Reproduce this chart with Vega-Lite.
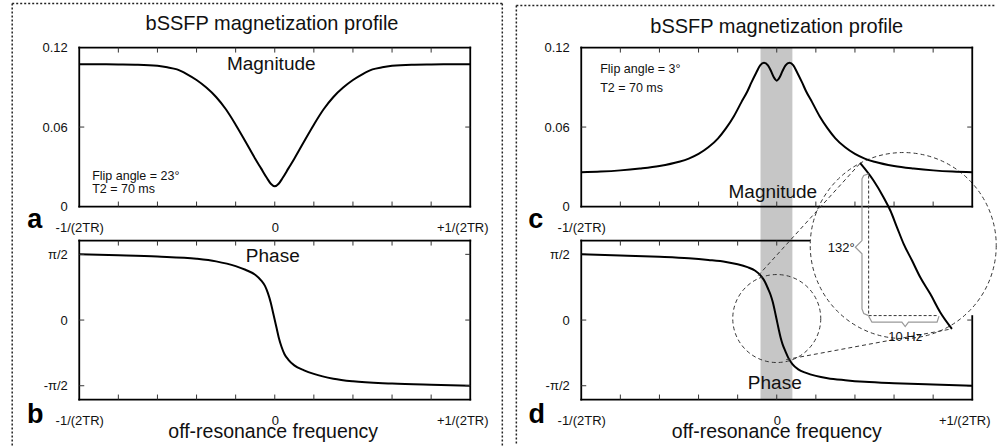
{
  "$schema": "https://vega.github.io/schema/vega-lite/v6.json",
  "background": "white",
  "padding": {"left": 11.25, "top": 2.55, "right": 0, "bottom": 0},
  "config": {
    "font": "Liberation Sans",
    "view": {"stroke": null},
    "axis": {"grid": false, "domain": false, "ticks": false, "labelFontSize": 13, "labelColor": "#111", "labelFont": "Liberation Sans", "zindex": 1, "labelFlush": false, "labelOverlap": false},
    "axisX": {"labelPadding": 15},
    "axisY": {"labelPadding": 12},
    "text": {"font": "Liberation Sans", "color": "#111"}
  },
  "datasets": {
    "tx": [{"x": -0.8}, {"x": -0.6}, {"x": -0.4}, {"x": -0.2}, {"x": 0}, {"x": 0.2}, {"x": 0.4}, {"x": 0.6}, {"x": 0.8}],
    "txD": [{"x": -0.8}, {"x": -0.6}, {"x": -0.4}, {"x": -0.2}, {"x": 0}],
    "tyM": [{"y": 0.06}],
    "tyP": [{"y": -1}, {"y": 0}, {"y": 1}],
    "tyD": [{"y": -1}, {"y": 0}],
    "magA": [
      {"x": -1, "y": 0.1074}, {"x": -0.9, "y": 0.1074}, {"x": -0.8, "y": 0.1073}, {"x": -0.7, "y": 0.1071}, {"x": -0.6, "y": 0.1062}, {"x": -0.55, "y": 0.1051}, {"x": -0.5, "y": 0.1035}, {"x": -0.45, "y": 0.1}, {"x": -0.4, "y": 0.0955}, {"x": -0.35, "y": 0.0898}, {"x": -0.3, "y": 0.0827}, {"x": -0.25, "y": 0.0734}, {"x": -0.2, "y": 0.0618}, {"x": -0.15, "y": 0.0491}, {"x": -0.1, "y": 0.0361}, {"x": -0.07, "y": 0.0288}, {"x": -0.04, "y": 0.0215}, {"x": -0.02, "y": 0.0172}, {"x": 0, "y": 0.0153},
      {"x": 0.02, "y": 0.0172}, {"x": 0.04, "y": 0.0215}, {"x": 0.07, "y": 0.0288}, {"x": 0.1, "y": 0.0361}, {"x": 0.15, "y": 0.0491}, {"x": 0.2, "y": 0.0618}, {"x": 0.25, "y": 0.0734}, {"x": 0.3, "y": 0.0827}, {"x": 0.35, "y": 0.0898}, {"x": 0.4, "y": 0.0955}, {"x": 0.45, "y": 0.1}, {"x": 0.5, "y": 0.1035}, {"x": 0.55, "y": 0.1051}, {"x": 0.6, "y": 0.1062}, {"x": 0.7, "y": 0.1071}, {"x": 0.8, "y": 0.1073}, {"x": 0.9, "y": 0.1074}, {"x": 1, "y": 0.1074}
    ],
    "phaseB": [
      {"x": -1, "y": 1}, {"x": -0.8, "y": 0.985}, {"x": -0.6, "y": 0.966}, {"x": -0.4, "y": 0.933}, {"x": -0.3, "y": 0.893}, {"x": -0.2, "y": 0.82}, {"x": -0.15, "y": 0.765}, {"x": -0.1, "y": 0.69}, {"x": -0.07, "y": 0.605}, {"x": -0.05, "y": 0.52}, {"x": -0.035, "y": 0.41}, {"x": -0.02, "y": 0.26}, {"x": -0.01, "y": 0.13}, {"x": 0, "y": 0},
      {"x": 0.01, "y": -0.13}, {"x": 0.02, "y": -0.26}, {"x": 0.035, "y": -0.41}, {"x": 0.05, "y": -0.52}, {"x": 0.07, "y": -0.605}, {"x": 0.1, "y": -0.69}, {"x": 0.15, "y": -0.765}, {"x": 0.2, "y": -0.82}, {"x": 0.3, "y": -0.893}, {"x": 0.4, "y": -0.933}, {"x": 0.6, "y": -0.966}, {"x": 0.8, "y": -0.985}, {"x": 1, "y": -1}
    ],
    "magC": [
      {"x": -1, "y": 0.0259}, {"x": -0.9, "y": 0.0264}, {"x": -0.8, "y": 0.0273}, {"x": -0.7, "y": 0.0287}, {"x": -0.6, "y": 0.0306}, {"x": -0.5, "y": 0.0338}, {"x": -0.45, "y": 0.0362}, {"x": -0.4, "y": 0.0397}, {"x": -0.35, "y": 0.0447}, {"x": -0.3, "y": 0.0515}, {"x": -0.26, "y": 0.059}, {"x": -0.22, "y": 0.068}, {"x": -0.18, "y": 0.079}, {"x": -0.15, "y": 0.087}, {"x": -0.13, "y": 0.0935}, {"x": -0.105, "y": 0.101}, {"x": -0.085, "y": 0.1065}, {"x": -0.065, "y": 0.1085}, {"x": -0.045, "y": 0.1065}, {"x": -0.03, "y": 0.1025}, {"x": -0.015, "y": 0.0975}, {"x": 0, "y": 0.095},
      {"x": 0.015, "y": 0.0975}, {"x": 0.03, "y": 0.1025}, {"x": 0.045, "y": 0.1065}, {"x": 0.065, "y": 0.1085}, {"x": 0.085, "y": 0.1065}, {"x": 0.105, "y": 0.101}, {"x": 0.13, "y": 0.0935}, {"x": 0.15, "y": 0.087}, {"x": 0.18, "y": 0.079}, {"x": 0.22, "y": 0.068}, {"x": 0.26, "y": 0.059}, {"x": 0.3, "y": 0.0515}, {"x": 0.35, "y": 0.0447}, {"x": 0.4, "y": 0.0397}, {"x": 0.45, "y": 0.0362}, {"x": 0.5, "y": 0.0338}, {"x": 0.6, "y": 0.0306}, {"x": 0.7, "y": 0.0287}, {"x": 0.8, "y": 0.0273}, {"x": 0.9, "y": 0.0264}, {"x": 1, "y": 0.0259}
    ],
    "phaseD": [
      {"x": -1, "y": 1}, {"x": -0.8, "y": 0.982}, {"x": -0.6, "y": 0.962}, {"x": -0.45, "y": 0.94}, {"x": -0.35, "y": 0.915}, {"x": -0.26, "y": 0.885}, {"x": -0.2, "y": 0.85}, {"x": -0.15, "y": 0.805}, {"x": -0.11, "y": 0.75}, {"x": -0.08, "y": 0.67}, {"x": -0.06, "y": 0.58}, {"x": -0.045, "y": 0.48}, {"x": -0.03, "y": 0.37}, {"x": -0.02, "y": 0.27}, {"x": -0.01, "y": 0.14}, {"x": 0, "y": 0},
      {"x": 0.01, "y": -0.14}, {"x": 0.02, "y": -0.27}, {"x": 0.03, "y": -0.37}, {"x": 0.045, "y": -0.48}, {"x": 0.06, "y": -0.58}, {"x": 0.08, "y": -0.67}, {"x": 0.11, "y": -0.75}, {"x": 0.15, "y": -0.805}, {"x": 0.2, "y": -0.85}, {"x": 0.26, "y": -0.885}, {"x": 0.35, "y": -0.915}, {"x": 0.45, "y": -0.94}, {"x": 0.6, "y": -0.962}, {"x": 0.8, "y": -0.982}, {"x": 1, "y": -1}
    ],
    "zoomCurve": [
      {"x": 0.427, "y": 2.387}, {"x": 0.495, "y": 2.123}, {"x": 0.546, "y": 1.869}, {"x": 0.581, "y": 1.667}, {"x": 0.615, "y": 1.412}, {"x": 0.649, "y": 1.16}, {"x": 0.692, "y": 0.906}, {"x": 0.734, "y": 0.651}, {"x": 0.785, "y": 0.399}, {"x": 0.836, "y": 0.119}, {"x": 0.896, "y": -0.134}
    ],
    "tangents": [
      {"seg": 1, "i": 0, "x": -0.095, "y": 0.677}, {"seg": 1, "i": 1, "x": 0.427, "y": 2.387},
      {"seg": 2, "i": 0, "x": 0.049, "y": -0.601}, {"seg": 2, "i": 1, "x": 0.896, "y": -0.134}
    ],
    "guides": [
      {"i": 0, "x": 0.47, "y": 2.199}, {"i": 1, "x": 0.47, "y": 0.068}, {"i": 2, "x": 0.828, "y": 0.068}
    ],
    "braces": [
      {"seg": 1, "i": 0, "x": 0.47, "y": 2.225}, {"seg": 1, "i": 1, "x": 0.445, "y": 2.2}, {"seg": 1, "i": 2, "x": 0.436, "y": 2.15}, {"seg": 1, "i": 3, "x": 0.436, "y": 1.21}, {"seg": 1, "i": 4, "x": 0.402, "y": 1.108}, {"seg": 1, "i": 5, "x": 0.436, "y": 1.008}, {"seg": 1, "i": 6, "x": 0.436, "y": 0.17}, {"seg": 1, "i": 7, "x": 0.445, "y": 0.1}, {"seg": 1, "i": 8, "x": 0.47, "y": 0.068},
      {"seg": 2, "i": 0, "x": 0.47, "y": 0.06}, {"seg": 2, "i": 1, "x": 0.487, "y": -0.033}, {"seg": 2, "i": 2, "x": 0.64, "y": -0.033}, {"seg": 2, "i": 3, "x": 0.657, "y": -0.1}, {"seg": 2, "i": 4, "x": 0.674, "y": -0.033}, {"seg": 2, "i": 5, "x": 0.82, "y": -0.033}, {"seg": 2, "i": 6, "x": 0.83, "y": 0.06}
    ],
    "frameMag": [
      {"x": -1, "x2": 1, "y": 0.12, "y2": 0.12},
      {"x": -1, "x2": 1, "y": 0, "y2": 0},
      {"x": -1, "x2": -1, "y": 0, "y2": 0.12},
      {"x": 1, "x2": 1, "y": 0, "y2": 0.12}
    ],
    "framePhaseB": [
      {"x": -1, "x2": 1, "y": 1.21, "y2": 1.21},
      {"x": -1, "x2": 1, "y": -1.21, "y2": -1.21},
      {"x": -1, "x2": -1, "y": -1.21, "y2": 1.21},
      {"x": 1, "x2": 1, "y": -1.21, "y2": 1.21}
    ],
    "framePhaseD": [
      {"x": -1, "x2": 0.166, "y": 1.21, "y2": 1.21},
      {"x": -1, "x2": 1, "y": -1.21, "y2": -1.21},
      {"x": -1, "x2": -1, "y": -1.21, "y2": 1.21},
      {"x": 1, "x2": 1, "y": -1.21, "y2": 0.06}
    ]
  },
  "concat": [
    {
      "width": 391, "height": 159,
      "resolve": {"axis": {"x": "independent", "y": "independent"}},
      "layer": [
        {
          "data": {"values": [
            {"x": -1.343, "x2": 1.164, "y": 0.1532, "y2": 0.1532},
            {"x": -1.343, "x2": -1.343, "y": 0.1532, "y2": -0.1804},
            {"x": 1.164, "x2": 1.164, "y": 0.1532, "y2": -0.1804}
          ]},
          "mark": {"type": "rule", "strokeDash": [2, 2], "strokeWidth": 1.5, "color": "#222"},
          "encoding": {
            "x": {"field": "x", "type": "quantitative", "scale": {"domain": [-1, 1], "nice": false, "zero": false}, "axis": null},
            "x2": {"field": "x2"},
            "y": {"field": "y", "type": "quantitative", "scale": {"domain": [0, 0.12], "nice": false, "zero": false}, "axis": null},
            "y2": {"field": "y2"}
          }
        },
        {
          "data": {"name": "magA"},
          "mark": {"type": "line", "color": "#000", "strokeWidth": 2, "interpolate": "monotone"},
          "encoding": {
            "x": {"field": "x", "type": "quantitative", "scale": {"domain": [-1, 1], "nice": false, "zero": false}, "axis": {"orient": "bottom", "title": null, "values": [-1, 0, 1], "labelExpr": "datum.value == -1 ? '-1/(2TR)' : datum.value == 1 ? '+1/(2TR)' : '0'", "labelOffset": {"condition": {"test": "datum.value == 1", "value": -8}, "value": 0}}},
            "y": {"field": "y", "type": "quantitative", "scale": {"domain": [0, 0.12], "nice": false, "zero": false}, "axis": {"orient": "left", "title": null, "values": [0, 0.06, 0.12], "labelExpr": "datum.value == 0 ? '0' : format(datum.value, '.2f')"}}
          }
        },
        {
          "data": {"name": "frameMag"},
          "mark": {"type": "rule", "strokeWidth": 1.8, "color": "#000", "strokeCap": "square"},
          "encoding": {
            "x": {"field": "x", "type": "quantitative", "scale": {"domain": [-1, 1], "nice": false, "zero": false}, "axis": null},
            "x2": {"field": "x2"},
            "y": {"field": "y", "type": "quantitative", "scale": {"domain": [0, 0.12], "nice": false, "zero": false}, "axis": null},
            "y2": {"field": "y2"}
          }
        },
        {
          "data": {"name": "tx"},
          "mark": {"type": "rule", "color": "#333", "strokeWidth": 1, "y2Offset": -5},
          "encoding": {
            "x": {"field": "x", "type": "quantitative", "scale": {"domain": [-1, 1], "nice": false, "zero": false}, "axis": null},
            "y": {"datum": 0, "type": "quantitative", "scale": {"domain": [0, 0.12], "nice": false, "zero": false}, "axis": null},
            "y2": {"datum": 0}
          }
        },
        {
          "data": {"name": "tx"},
          "mark": {"type": "rule", "color": "#333", "strokeWidth": 1, "y2Offset": 5},
          "encoding": {
            "x": {"field": "x", "type": "quantitative", "scale": {"domain": [-1, 1], "nice": false, "zero": false}, "axis": null},
            "y": {"datum": 0.12, "type": "quantitative", "scale": {"domain": [0, 0.12], "nice": false, "zero": false}, "axis": null},
            "y2": {"datum": 0.12}
          }
        },
        {
          "data": {"name": "tyM"},
          "mark": {"type": "rule", "color": "#333", "strokeWidth": 1, "x2Offset": 5},
          "encoding": {
            "y": {"field": "y", "type": "quantitative", "scale": {"domain": [0, 0.12], "nice": false, "zero": false}, "axis": null},
            "x": {"datum": -1, "type": "quantitative", "scale": {"domain": [-1, 1], "nice": false, "zero": false}, "axis": null},
            "x2": {"datum": -1}
          }
        },
        {
          "data": {"name": "tyM"},
          "mark": {"type": "rule", "color": "#333", "strokeWidth": 1, "x2Offset": -5},
          "encoding": {
            "y": {"field": "y", "type": "quantitative", "scale": {"domain": [0, 0.12], "nice": false, "zero": false}, "axis": null},
            "x": {"datum": 1, "type": "quantitative", "scale": {"domain": [-1, 1], "nice": false, "zero": false}, "axis": null},
            "x2": {"datum": 1}
          }
        },
        {
          "data": {"values": [
            {"x": -0.014, "y": 0.1374, "t": "bSSFP magnetization profile", "s": 20},
            {"x": -0.018, "y": 0.1077, "t": "Magnitude", "s": 19}
          ]},
          "mark": {"type": "text", "align": "center", "baseline": "middle"},
          "encoding": {
            "x": {"field": "x", "type": "quantitative", "scale": {"domain": [-1, 1], "nice": false, "zero": false}, "axis": null},
            "y": {"field": "y", "type": "quantitative", "scale": {"domain": [0, 0.12], "nice": false, "zero": false}, "axis": null},
            "text": {"field": "t"},
            "size": {"field": "s", "type": "quantitative", "scale": null}
          }
        },
        {
          "data": {"values": [
            {"x": -0.934, "y": 0.0228, "t": "Flip angle = 23°"},
            {"x": -0.934, "y": 0.0133, "t": "T2 = 70 ms"}
          ]},
          "mark": {"type": "text", "align": "left", "baseline": "middle", "fontSize": 12.5},
          "encoding": {
            "x": {"field": "x", "type": "quantitative", "scale": {"domain": [-1, 1], "nice": false, "zero": false}, "axis": null},
            "y": {"field": "y", "type": "quantitative", "scale": {"domain": [0, 0.12], "nice": false, "zero": false}, "axis": null},
            "text": {"field": "t"}
          }
        },
        {
          "data": {"values": [{"x": -1.2276, "y": -0.01585, "t": "a"}]},
          "mark": {"type": "text", "align": "center", "baseline": "alphabetic", "fontSize": 27, "fontWeight": "bold", "color": "#000"},
          "encoding": {
            "x": {"field": "x", "type": "quantitative", "scale": {"domain": [-1, 1], "nice": false, "zero": false}, "axis": null},
            "y": {"field": "y", "type": "quantitative", "scale": {"domain": [0, 0.12], "nice": false, "zero": false}, "axis": null},
            "text": {"field": "t"}
          }
        }
      ]
    },
    {
      "width": 391, "height": 159,
      "resolve": {"axis": {"x": "independent", "y": "independent"}},
      "layer": [
        {
          "data": {"values": [
            {"x": -1.332, "x2": 1.123, "y": 0.1517, "y2": 0.1517},
            {"x": -1.332, "x2": -1.332, "y": 0.1517, "y2": -0.1804}
          ]},
          "mark": {"type": "rule", "strokeDash": [2, 2], "strokeWidth": 1.5, "color": "#222"},
          "encoding": {
            "x": {"field": "x", "type": "quantitative", "scale": {"domain": [-1, 1], "nice": false, "zero": false}, "axis": null},
            "x2": {"field": "x2"},
            "y": {"field": "y", "type": "quantitative", "scale": {"domain": [0, 0.12], "nice": false, "zero": false}, "axis": null},
            "y2": {"field": "y2"}
          }
        },
        {
          "data": {"values": [{"x": -0.083, "x2": 0.08, "y": 0.12, "y2": -0.02566}]},
          "mark": {"type": "rect", "color": "#c6c6c6"},
          "encoding": {
            "x": {"field": "x", "type": "quantitative", "scale": {"domain": [-1, 1], "nice": false, "zero": false}, "axis": null},
            "x2": {"field": "x2"},
            "y": {"field": "y", "type": "quantitative", "scale": {"domain": [0, 0.12], "nice": false, "zero": false}, "axis": null},
            "y2": {"field": "y2"}
          }
        },
        {
          "data": {"values": [{"x": 0.647, "y": -0.02943}]},
          "mark": {"type": "point", "shape": "circle", "filled": true, "fill": "white", "stroke": "#333", "strokeWidth": 1, "strokeDash": [4, 3], "size": 34596, "opacity": 1},
          "encoding": {
            "x": {"field": "x", "type": "quantitative", "scale": {"domain": [-1, 1], "nice": false, "zero": false}, "axis": null},
            "y": {"field": "y", "type": "quantitative", "scale": {"domain": [0, 0.12], "nice": false, "zero": false}, "axis": null}
          }
        },
        {
          "data": {"name": "magC"},
          "mark": {"type": "line", "color": "#000", "strokeWidth": 2, "interpolate": "monotone"},
          "encoding": {
            "x": {"field": "x", "type": "quantitative", "scale": {"domain": [-1, 1], "nice": false, "zero": false}, "axis": {"orient": "bottom", "title": null, "values": [-1, 0], "labelExpr": "datum.value == -1 ? '-1/(2TR)' : '0'"}},
            "y": {"field": "y", "type": "quantitative", "scale": {"domain": [0, 0.12], "nice": false, "zero": false}, "axis": {"orient": "left", "title": null, "values": [0, 0.06, 0.12], "labelExpr": "datum.value == 0 ? '0' : format(datum.value, '.2f')"}}
          }
        },
        {
          "data": {"name": "frameMag"},
          "mark": {"type": "rule", "strokeWidth": 1.8, "color": "#000", "strokeCap": "square"},
          "encoding": {
            "x": {"field": "x", "type": "quantitative", "scale": {"domain": [-1, 1], "nice": false, "zero": false}, "axis": null},
            "x2": {"field": "x2"},
            "y": {"field": "y", "type": "quantitative", "scale": {"domain": [0, 0.12], "nice": false, "zero": false}, "axis": null},
            "y2": {"field": "y2"}
          }
        },
        {
          "data": {"name": "tx"},
          "mark": {"type": "rule", "color": "#333", "strokeWidth": 1, "y2Offset": -5},
          "encoding": {
            "x": {"field": "x", "type": "quantitative", "scale": {"domain": [-1, 1], "nice": false, "zero": false}, "axis": null},
            "y": {"datum": 0, "type": "quantitative", "scale": {"domain": [0, 0.12], "nice": false, "zero": false}, "axis": null},
            "y2": {"datum": 0}
          }
        },
        {
          "data": {"name": "tx"},
          "mark": {"type": "rule", "color": "#333", "strokeWidth": 1, "y2Offset": 5},
          "encoding": {
            "x": {"field": "x", "type": "quantitative", "scale": {"domain": [-1, 1], "nice": false, "zero": false}, "axis": null},
            "y": {"datum": 0.12, "type": "quantitative", "scale": {"domain": [0, 0.12], "nice": false, "zero": false}, "axis": null},
            "y2": {"datum": 0.12}
          }
        },
        {
          "data": {"name": "tyM"},
          "mark": {"type": "rule", "color": "#333", "strokeWidth": 1, "x2Offset": 5},
          "encoding": {
            "y": {"field": "y", "type": "quantitative", "scale": {"domain": [0, 0.12], "nice": false, "zero": false}, "axis": null},
            "x": {"datum": -1, "type": "quantitative", "scale": {"domain": [-1, 1], "nice": false, "zero": false}, "axis": null},
            "x2": {"datum": -1}
          }
        },
        {
          "data": {"name": "tyM"},
          "mark": {"type": "rule", "color": "#333", "strokeWidth": 1, "x2Offset": -5},
          "encoding": {
            "y": {"field": "y", "type": "quantitative", "scale": {"domain": [0, 0.12], "nice": false, "zero": false}, "axis": null},
            "x": {"datum": 1, "type": "quantitative", "scale": {"domain": [-1, 1], "nice": false, "zero": false}, "axis": null},
            "x2": {"datum": 1}
          }
        },
        {
          "data": {"values": [
            {"x": 0, "y": 0.1358, "t": "bSSFP magnetization profile", "s": 20},
            {"x": -0.02, "y": 0.0108, "t": "Magnitude", "s": 19}
          ]},
          "mark": {"type": "text", "align": "center", "baseline": "middle"},
          "encoding": {
            "x": {"field": "x", "type": "quantitative", "scale": {"domain": [-1, 1], "nice": false, "zero": false}, "axis": null},
            "y": {"field": "y", "type": "quantitative", "scale": {"domain": [0, 0.12], "nice": false, "zero": false}, "axis": null},
            "text": {"field": "t"},
            "size": {"field": "s", "type": "quantitative", "scale": null}
          }
        },
        {
          "data": {"values": [
            {"x": -0.903, "y": 0.1036, "t": "Flip angle = 3°"},
            {"x": -0.903, "y": 0.0898, "t": "T2 = 70 ms"}
          ]},
          "mark": {"type": "text", "align": "left", "baseline": "middle", "fontSize": 12.5},
          "encoding": {
            "x": {"field": "x", "type": "quantitative", "scale": {"domain": [-1, 1], "nice": false, "zero": false}, "axis": null},
            "y": {"field": "y", "type": "quantitative", "scale": {"domain": [0, 0.12], "nice": false, "zero": false}, "axis": null},
            "text": {"field": "t"}
          }
        },
        {
          "data": {"values": [{"x": -1.2327, "y": -0.01585, "t": "c"}]},
          "mark": {"type": "text", "align": "center", "baseline": "alphabetic", "fontSize": 27, "fontWeight": "bold", "color": "#000"},
          "encoding": {
            "x": {"field": "x", "type": "quantitative", "scale": {"domain": [-1, 1], "nice": false, "zero": false}, "axis": null},
            "y": {"field": "y", "type": "quantitative", "scale": {"domain": [0, 0.12], "nice": false, "zero": false}, "axis": null},
            "text": {"field": "t"}
          }
        }
      ]
    },
    {
      "width": 391, "height": 159,
      "resolve": {"axis": {"x": "independent", "y": "independent"}},
      "layer": [
        {
          "data": {"name": "phaseB"},
          "mark": {"type": "line", "color": "#000", "strokeWidth": 2, "interpolate": "monotone"},
          "encoding": {
            "x": {"field": "x", "type": "quantitative", "scale": {"domain": [-1, 1], "nice": false, "zero": false}, "axis": {"orient": "bottom", "title": null, "values": [-1, 0, 1], "labelExpr": "datum.value == -1 ? '-1/(2TR)' : datum.value == 1 ? '+1/(2TR)' : '0'", "labelOffset": {"condition": {"test": "datum.value == 1", "value": -8}, "value": 0}}},
            "y": {"field": "y", "type": "quantitative", "scale": {"domain": [-1.21, 1.21], "nice": false, "zero": false}, "axis": {"orient": "left", "title": null, "values": [-1, 0, 1], "labelExpr": "datum.value == 1 ? 'π/2' : datum.value == -1 ? '-π/2' : '0'"}}
          }
        },
        {
          "data": {"name": "framePhaseB"},
          "mark": {"type": "rule", "strokeWidth": 1.8, "color": "#000", "strokeCap": "square"},
          "encoding": {
            "x": {"field": "x", "type": "quantitative", "scale": {"domain": [-1, 1], "nice": false, "zero": false}, "axis": null},
            "x2": {"field": "x2"},
            "y": {"field": "y", "type": "quantitative", "scale": {"domain": [-1.21, 1.21], "nice": false, "zero": false}, "axis": null},
            "y2": {"field": "y2"}
          }
        },
        {
          "data": {"name": "tx"},
          "mark": {"type": "rule", "color": "#333", "strokeWidth": 1, "y2Offset": -5},
          "encoding": {
            "x": {"field": "x", "type": "quantitative", "scale": {"domain": [-1, 1], "nice": false, "zero": false}, "axis": null},
            "y": {"datum": -1.21, "type": "quantitative", "scale": {"domain": [-1.21, 1.21], "nice": false, "zero": false}, "axis": null},
            "y2": {"datum": -1.21}
          }
        },
        {
          "data": {"name": "tx"},
          "mark": {"type": "rule", "color": "#333", "strokeWidth": 1, "y2Offset": 5},
          "encoding": {
            "x": {"field": "x", "type": "quantitative", "scale": {"domain": [-1, 1], "nice": false, "zero": false}, "axis": null},
            "y": {"datum": 1.21, "type": "quantitative", "scale": {"domain": [-1.21, 1.21], "nice": false, "zero": false}, "axis": null},
            "y2": {"datum": 1.21}
          }
        },
        {
          "data": {"name": "tyP"},
          "mark": {"type": "rule", "color": "#333", "strokeWidth": 1, "x2Offset": 5},
          "encoding": {
            "y": {"field": "y", "type": "quantitative", "scale": {"domain": [-1.21, 1.21], "nice": false, "zero": false}, "axis": null},
            "x": {"datum": -1, "type": "quantitative", "scale": {"domain": [-1, 1], "nice": false, "zero": false}, "axis": null},
            "x2": {"datum": -1}
          }
        },
        {
          "data": {"name": "tyP"},
          "mark": {"type": "rule", "color": "#333", "strokeWidth": 1, "x2Offset": -5},
          "encoding": {
            "y": {"field": "y", "type": "quantitative", "scale": {"domain": [-1.21, 1.21], "nice": false, "zero": false}, "axis": null},
            "x": {"datum": 1, "type": "quantitative", "scale": {"domain": [-1, 1], "nice": false, "zero": false}, "axis": null},
            "x2": {"datum": 1}
          }
        },
        {
          "data": {"values": [
            {"x": -0.01, "y": 0.98, "t": "Phase", "s": 19},
            {"x": -0.008, "y": -1.71, "t": "off-resonance frequency", "s": 19.5}
          ]},
          "mark": {"type": "text", "align": "center", "baseline": "middle"},
          "encoding": {
            "x": {"field": "x", "type": "quantitative", "scale": {"domain": [-1, 1], "nice": false, "zero": false}, "axis": null},
            "y": {"field": "y", "type": "quantitative", "scale": {"domain": [-1.21, 1.21], "nice": false, "zero": false}, "axis": null},
            "text": {"field": "t"},
            "size": {"field": "s", "type": "quantitative", "scale": null}
          }
        },
        {
          "data": {"values": [{"x": -1.225, "y": -1.56, "t": "b"}]},
          "mark": {"type": "text", "align": "center", "baseline": "alphabetic", "fontSize": 27, "fontWeight": "bold", "color": "#000"},
          "encoding": {
            "x": {"field": "x", "type": "quantitative", "scale": {"domain": [-1, 1], "nice": false, "zero": false}, "axis": null},
            "y": {"field": "y", "type": "quantitative", "scale": {"domain": [-1.21, 1.21], "nice": false, "zero": false}, "axis": null},
            "text": {"field": "t"}
          }
        }
      ]
    },
    {
      "width": 391, "height": 159,
      "resolve": {"axis": {"x": "independent", "y": "independent"}},
      "layer": [
        {
          "data": {"values": [{"x": -0.083, "x2": 0.08, "y": 1.21, "y2": -1.21}]},
          "mark": {"type": "rect", "color": "#c6c6c6"},
          "encoding": {
            "x": {"field": "x", "type": "quantitative", "scale": {"domain": [-1, 1], "nice": false, "zero": false}, "axis": null},
            "x2": {"field": "x2"},
            "y": {"field": "y", "type": "quantitative", "scale": {"domain": [-1.21, 1.21], "nice": false, "zero": false}, "axis": null},
            "y2": {"field": "y2"}
          }
        },
        {
          "data": {"name": "framePhaseD"},
          "mark": {"type": "rule", "strokeWidth": 1.8, "color": "#000", "strokeCap": "square"},
          "encoding": {
            "x": {"field": "x", "type": "quantitative", "scale": {"domain": [-1, 1], "nice": false, "zero": false}, "axis": null},
            "x2": {"field": "x2"},
            "y": {"field": "y", "type": "quantitative", "scale": {"domain": [-1.21, 1.21], "nice": false, "zero": false}, "axis": null},
            "y2": {"field": "y2"}
          }
        },
        {
          "data": {"name": "tx"},
          "mark": {"type": "rule", "color": "#333", "strokeWidth": 1, "y2Offset": -5},
          "encoding": {
            "x": {"field": "x", "type": "quantitative", "scale": {"domain": [-1, 1], "nice": false, "zero": false}, "axis": null},
            "y": {"datum": -1.21, "type": "quantitative", "scale": {"domain": [-1.21, 1.21], "nice": false, "zero": false}, "axis": null},
            "y2": {"datum": -1.21}
          }
        },
        {
          "data": {"name": "txD"},
          "mark": {"type": "rule", "color": "#333", "strokeWidth": 1, "y2Offset": 5},
          "encoding": {
            "x": {"field": "x", "type": "quantitative", "scale": {"domain": [-1, 1], "nice": false, "zero": false}, "axis": null},
            "y": {"datum": 1.21, "type": "quantitative", "scale": {"domain": [-1.21, 1.21], "nice": false, "zero": false}, "axis": null},
            "y2": {"datum": 1.21}
          }
        },
        {
          "data": {"name": "tyP"},
          "mark": {"type": "rule", "color": "#333", "strokeWidth": 1, "x2Offset": 5},
          "encoding": {
            "y": {"field": "y", "type": "quantitative", "scale": {"domain": [-1.21, 1.21], "nice": false, "zero": false}, "axis": null},
            "x": {"datum": -1, "type": "quantitative", "scale": {"domain": [-1, 1], "nice": false, "zero": false}, "axis": null},
            "x2": {"datum": -1}
          }
        },
        {
          "data": {"name": "tyD"},
          "mark": {"type": "rule", "color": "#333", "strokeWidth": 1, "x2Offset": -5},
          "encoding": {
            "y": {"field": "y", "type": "quantitative", "scale": {"domain": [-1.21, 1.21], "nice": false, "zero": false}, "axis": null},
            "x": {"datum": 1, "type": "quantitative", "scale": {"domain": [-1, 1], "nice": false, "zero": false}, "axis": null},
            "x2": {"datum": 1}
          }
        },
        {
          "data": {"name": "phaseD"},
          "mark": {"type": "line", "color": "#000", "strokeWidth": 2, "interpolate": "monotone"},
          "encoding": {
            "x": {"field": "x", "type": "quantitative", "scale": {"domain": [-1, 1], "nice": false, "zero": false}, "axis": {"orient": "bottom", "title": null, "values": [-1, 0, 1], "labelExpr": "datum.value == -1 ? '-1/(2TR)' : datum.value == 1 ? '+1/(2TR)' : '0'", "labelOffset": {"condition": {"test": "datum.value == 1", "value": -8}, "value": 0}}},
            "y": {"field": "y", "type": "quantitative", "scale": {"domain": [-1.21, 1.21], "nice": false, "zero": false}, "axis": {"orient": "left", "title": null, "values": [-1, 0, 1], "labelExpr": "datum.value == 1 ? 'π/2' : datum.value == -1 ? '-π/2' : '0'"}}
          }
        },
        {
          "data": {"values": [{"x": 0, "y": 0.023}]},
          "mark": {"type": "point", "shape": "circle", "filled": false, "stroke": "#333", "strokeWidth": 1, "strokeDash": [4, 3], "size": 7744, "opacity": 1},
          "encoding": {
            "x": {"field": "x", "type": "quantitative", "scale": {"domain": [-1, 1], "nice": false, "zero": false}, "axis": null},
            "y": {"field": "y", "type": "quantitative", "scale": {"domain": [-1.21, 1.21], "nice": false, "zero": false}, "axis": null}
          }
        },
        {
          "data": {"name": "tangents"},
          "mark": {"type": "line", "color": "#333", "strokeWidth": 1, "strokeDash": [4, 3]},
          "encoding": {
            "x": {"field": "x", "type": "quantitative", "scale": {"domain": [-1, 1], "nice": false, "zero": false}, "axis": null},
            "y": {"field": "y", "type": "quantitative", "scale": {"domain": [-1.21, 1.21], "nice": false, "zero": false}, "axis": null},
            "detail": {"field": "seg", "type": "nominal"},
            "order": {"field": "i", "type": "quantitative"}
          }
        },
        {
          "data": {"name": "zoomCurve"},
          "mark": {"type": "line", "color": "#000", "strokeWidth": 2, "interpolate": "monotone"},
          "encoding": {
            "x": {"field": "x", "type": "quantitative", "scale": {"domain": [-1, 1], "nice": false, "zero": false}, "axis": null},
            "y": {"field": "y", "type": "quantitative", "scale": {"domain": [-1.21, 1.21], "nice": false, "zero": false}, "axis": null}
          }
        },
        {
          "data": {"name": "guides"},
          "mark": {"type": "line", "color": "#333", "strokeWidth": 1, "strokeDash": [3, 2]},
          "encoding": {
            "x": {"field": "x", "type": "quantitative", "scale": {"domain": [-1, 1], "nice": false, "zero": false}, "axis": null},
            "y": {"field": "y", "type": "quantitative", "scale": {"domain": [-1.21, 1.21], "nice": false, "zero": false}, "axis": null},
            "order": {"field": "i", "type": "quantitative"}
          }
        },
        {
          "data": {"name": "braces"},
          "mark": {"type": "line", "color": "#999", "strokeWidth": 1.2},
          "encoding": {
            "x": {"field": "x", "type": "quantitative", "scale": {"domain": [-1, 1], "nice": false, "zero": false}, "axis": null},
            "y": {"field": "y", "type": "quantitative", "scale": {"domain": [-1.21, 1.21], "nice": false, "zero": false}, "axis": null},
            "detail": {"field": "seg", "type": "nominal"},
            "order": {"field": "i", "type": "quantitative"}
          }
        },
        {
          "data": {"values": [
            {"x": -0.01, "y": -0.96, "t": "Phase", "s": 19},
            {"x": 0, "y": -1.71, "t": "off-resonance frequency", "s": 19.5},
            {"x": 0.33, "y": 1.103, "t": "132°", "s": 13},
            {"x": 0.657, "y": -0.26, "t": "10 Hz", "s": 13}
          ]},
          "mark": {"type": "text", "align": "center", "baseline": "middle"},
          "encoding": {
            "x": {"field": "x", "type": "quantitative", "scale": {"domain": [-1, 1], "nice": false, "zero": false}, "axis": null},
            "y": {"field": "y", "type": "quantitative", "scale": {"domain": [-1.21, 1.21], "nice": false, "zero": false}, "axis": null},
            "text": {"field": "t"},
            "size": {"field": "s", "type": "quantitative", "scale": null}
          }
        },
        {
          "data": {"values": [{"x": -1.2276, "y": -1.56, "t": "d"}]},
          "mark": {"type": "text", "align": "center", "baseline": "alphabetic", "fontSize": 27, "fontWeight": "bold", "color": "#000"},
          "encoding": {
            "x": {"field": "x", "type": "quantitative", "scale": {"domain": [-1, 1], "nice": false, "zero": false}, "axis": null},
            "y": {"field": "y", "type": "quantitative", "scale": {"domain": [-1.21, 1.21], "nice": false, "zero": false}, "axis": null},
            "text": {"field": "t"}
          }
        }
      ]
    }
  ],
  "columns": 2,
  "spacing": {"row": 34, "column": 111},
  "bounds": "flush"
}
